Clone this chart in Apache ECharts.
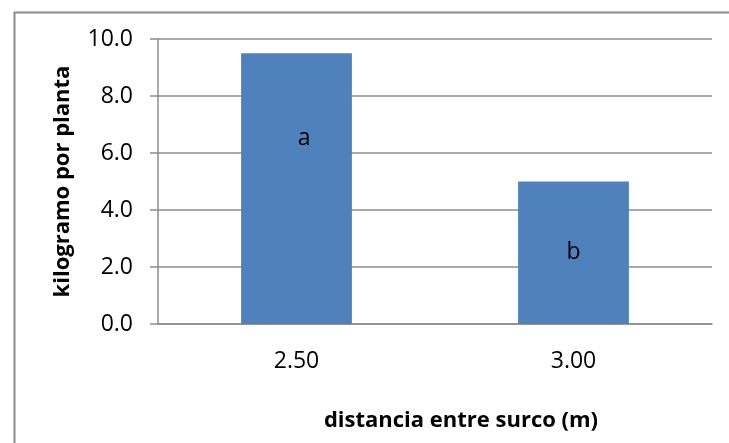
<!DOCTYPE html>
<html>
<head>
<meta charset="utf-8">
<script src="https://cdn.jsdelivr.net/npm/echarts@6/dist/echarts.min.js"></script>
<style>html,body{margin:0;padding:0;background:#fff;}#c{width:729px;height:443px;}</style>
</head>
<body>
<div id="c"></div>
<script>
const categories = ['2.50', '3.00'];
const values = [9.5, 5.0];
const barLabels = ['a', 'b'];
const yTitle = 'kilogramo por planta';
const xTitle = 'distancia entre surco (m)';

const chart = echarts.init(document.getElementById('c'), null, {renderer: 'canvas'});
const font = 'Open Sans';
chart.setOption({
  animation: false,
  backgroundColor: '#fff',
  graphic: [{
    type: 'rect', left: 12, top: 10, shape: {width: 1200, height: 800},
    style: {fill: 'none', stroke: '#8a8a8a', lineWidth: 2}, silent: true
  }],
  grid: {left: 158, right: 17, top: 39, bottom: 119, containLabel: false},
  xAxis: {
    type: 'category',
    data: categories,
    axisLine: {lineStyle: {color: '#8c8c8c', width: 1.5}},
    axisTick: {show: false},
    axisLabel: {color: '#000', fontFamily: font, fontSize: 23, margin: 26},
    name: xTitle,
    nameLocation: 'middle',
    nameGap: 86,
    nameTextStyle: {color: '#000', fontFamily: font, fontSize: 22, fontWeight: 'bold', padding: [0, 0, 0, 52]}
  },
  yAxis: {
    type: 'value',
    min: 0, max: 10, interval: 2,
    axisLine: {show: true, lineStyle: {color: '#8c8c8c', width: 1.5}},
    axisTick: {show: true, length: 8, lineStyle: {color: '#8c8c8c', width: 1.5}},
    splitLine: {lineStyle: {color: '#8c8c8c', width: 1.5}},
    axisLabel: {color: '#000', fontFamily: font, fontSize: 23, margin: 25, formatter: v => v.toFixed(1)},
    name: yTitle,
    nameLocation: 'middle',
    nameGap: 84,
    nameRotate: 90,
    nameTextStyle: {color: '#000', fontFamily: font, fontSize: 22, fontWeight: 'bold'}
  },
  series: [{
    type: 'bar',
    barCategoryGap: '60%',
    itemStyle: {color: '#4F81BD'},
    data: values.map((v, i) => ({
      value: v,
      label: {
        show: true,
        formatter: barLabels[i],
        position: i === 0 ? ['57%', '31.5%'] : 'inside',
        align: 'center',
        verticalAlign: 'middle',
        color: '#000',
        fontFamily: font,
        fontSize: 23
      }
    }))
  }]
});
</script>
</body>
</html>
